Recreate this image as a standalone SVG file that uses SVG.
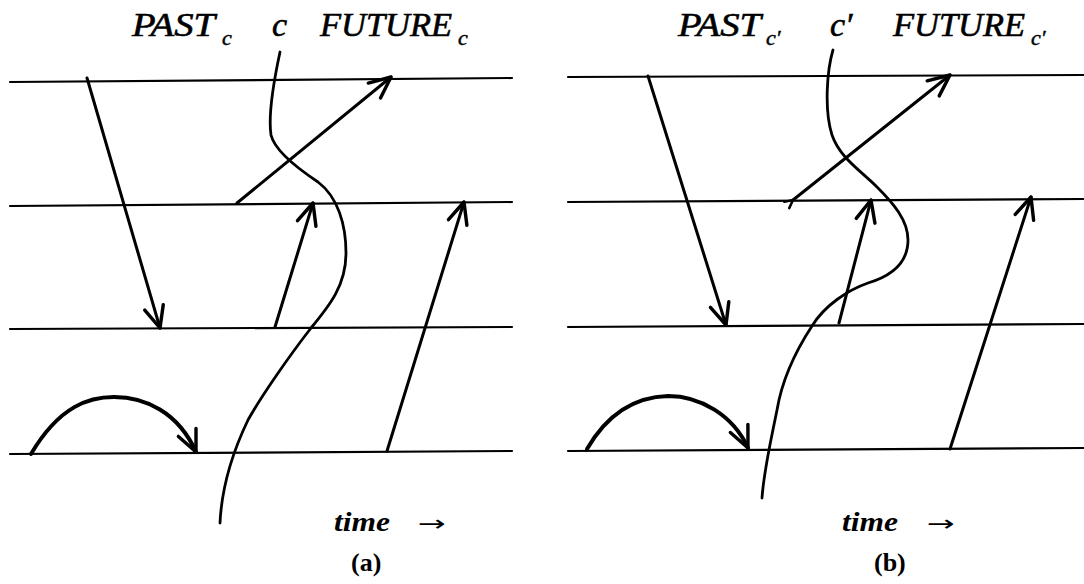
<svg xmlns="http://www.w3.org/2000/svg" width="1084" height="584" viewBox="0 0 1084 584">
<style>
.bg{fill:#fff}
.hl{stroke:#000;stroke-width:2.2;fill:none;stroke-linecap:round}
.ar{stroke:#000;stroke-width:3;fill:none;stroke-linecap:round}
.cv{stroke:#000;stroke-width:2.8;fill:none;stroke-linecap:round}
.arc{stroke:#000;stroke-width:4;fill:none;stroke-linecap:round}
.lab{font-family:"Liberation Serif",serif;font-style:italic;font-size:34px;fill:#000;stroke:#000;stroke-width:0.6}
.sub{font-family:"Liberation Serif",serif;font-style:italic;font-size:22px;fill:#000;stroke:#000;stroke-width:0.5}
.tm{font-family:"Liberation Serif",serif;font-style:italic;font-weight:bold;font-size:28px;fill:#000}
.ta{font-family:"DejaVu Sans",sans-serif;font-size:22px;fill:#000}
.cap{font-family:"Liberation Serif",serif;font-weight:bold;font-size:26px;fill:#000}
</style>
<defs>
<marker id="ah" markerUnits="userSpaceOnUse" markerWidth="30" markerHeight="30" viewBox="-24 -12 28 24" refX="0" refY="0" orient="auto">
<path d="M-20,-9 L0,0 L-20,9" fill="none" stroke="#000" stroke-width="3.2" stroke-linecap="round" stroke-linejoin="round"/>
</marker>
<marker id="ahs" markerUnits="userSpaceOnUse" markerWidth="16" markerHeight="16" viewBox="-12 -8 14 16" refX="0" refY="0" orient="auto">
<path d="M-8,-4 L0,0 L-8,4" fill="none" stroke="#000" stroke-width="2.5" stroke-linecap="round" stroke-linejoin="round"/>
</marker>
</defs>
<rect class="bg" x="0" y="0" width="1084" height="584"/>

<g id="panel-a">
<g id="a-lines">
<line class="hl" x1="10" y1="82" x2="512" y2="78"/>
<line class="hl" x1="10" y1="206" x2="512" y2="202"/>
<line class="hl" x1="10" y1="329" x2="512" y2="327"/>
<line class="hl" x1="10" y1="454" x2="512" y2="451"/>
</g>
<g id="a-labels">
<text class="lab" x="132" y="36" textLength="83" lengthAdjust="spacingAndGlyphs">PAST</text>
<text class="sub" x="222" y="45">c</text>
<text class="lab" x="272" y="36">c</text>
<text class="lab" x="320" y="36" textLength="132" lengthAdjust="spacingAndGlyphs">FUTURE</text>
<text class="sub" x="458" y="45">c</text>
<text class="tm" x="334" y="531" textLength="56" lengthAdjust="spacingAndGlyphs">time</text>
<text class="ta" x="418" y="531" textLength="28" lengthAdjust="spacingAndGlyphs">→</text>
<text class="cap" x="351" y="571">(a)</text>
</g>
<g id="a-worldline">
<path class="cv" d="M280,52 C274,80 268,115 271,135 C275,152 300,170 318,182 C338,197 346,225 346,253 C346,285 330,305 311,328 C290,355 262,395 248,420 C236,445 222,480 220,523"/>
</g>
<g id="a-connectors">
<line class="ar" x1="87" y1="78" x2="160" y2="328" marker-end="url(#ah)"/>
<line class="ar" x1="237" y1="203" x2="391" y2="77" marker-end="url(#ah)"/>
<line class="ar" x1="275" y1="327" x2="313" y2="203" marker-end="url(#ah)"/>
<line class="ar" x1="387" y1="451" x2="464" y2="202" marker-end="url(#ah)"/>
<path class="arc" d="M31,454 C60,405 90,397 114,397 C145,397 178,412 196,452" marker-end="url(#ah)"/>
</g>
</g>

<g id="panel-b">
<g id="b-lines">
<line class="hl" x1="568" y1="77" x2="1084" y2="75"/>
<line class="hl" x1="568" y1="202" x2="1084" y2="199"/>
<line class="hl" x1="568" y1="327" x2="1084" y2="324"/>
<line class="hl" x1="568" y1="451" x2="1084" y2="448"/>
</g>
<g id="b-labels">
<text class="lab" x="678" y="36" textLength="83" lengthAdjust="spacingAndGlyphs">PAST</text>
<text class="sub" x="766" y="45">c′</text>
<text class="lab" x="830" y="36">c′</text>
<text class="lab" x="893" y="36" textLength="132" lengthAdjust="spacingAndGlyphs">FUTURE</text>
<text class="sub" x="1031" y="45">c′</text>
<text class="tm" x="842" y="531" textLength="56" lengthAdjust="spacingAndGlyphs">time</text>
<text class="ta" x="927" y="531" textLength="28" lengthAdjust="spacingAndGlyphs">→</text>
<text class="cap" x="874" y="571">(b)</text>
</g>
<g id="b-worldline">
<path class="cv" d="M833,50 C827,70 824,110 832,135 C840,158 860,170 877,187 C893,203 908,220 908,240 C908,265 888,277 868,283 C848,290 825,305 812,326 C795,352 782,380 777,410 C770,445 764,470 762,498"/>
</g>
<g id="b-connectors">
<line class="ar" x1="648" y1="76" x2="726" y2="325" marker-end="url(#ah)"/>
<line class="ar" x1="793" y1="200" x2="950" y2="75" marker-start="url(#ahs)" marker-end="url(#ah)"/>
<line class="ar" x1="839" y1="323" x2="871" y2="200" marker-end="url(#ah)"/>
<line class="ar" x1="950" y1="449" x2="1031" y2="197" marker-end="url(#ah)"/>
<path class="arc" d="M587,449 C605,418 630,397 668,396 C700,396 733,415 748,448" marker-end="url(#ah)"/>
</g>
</g>
</svg>
